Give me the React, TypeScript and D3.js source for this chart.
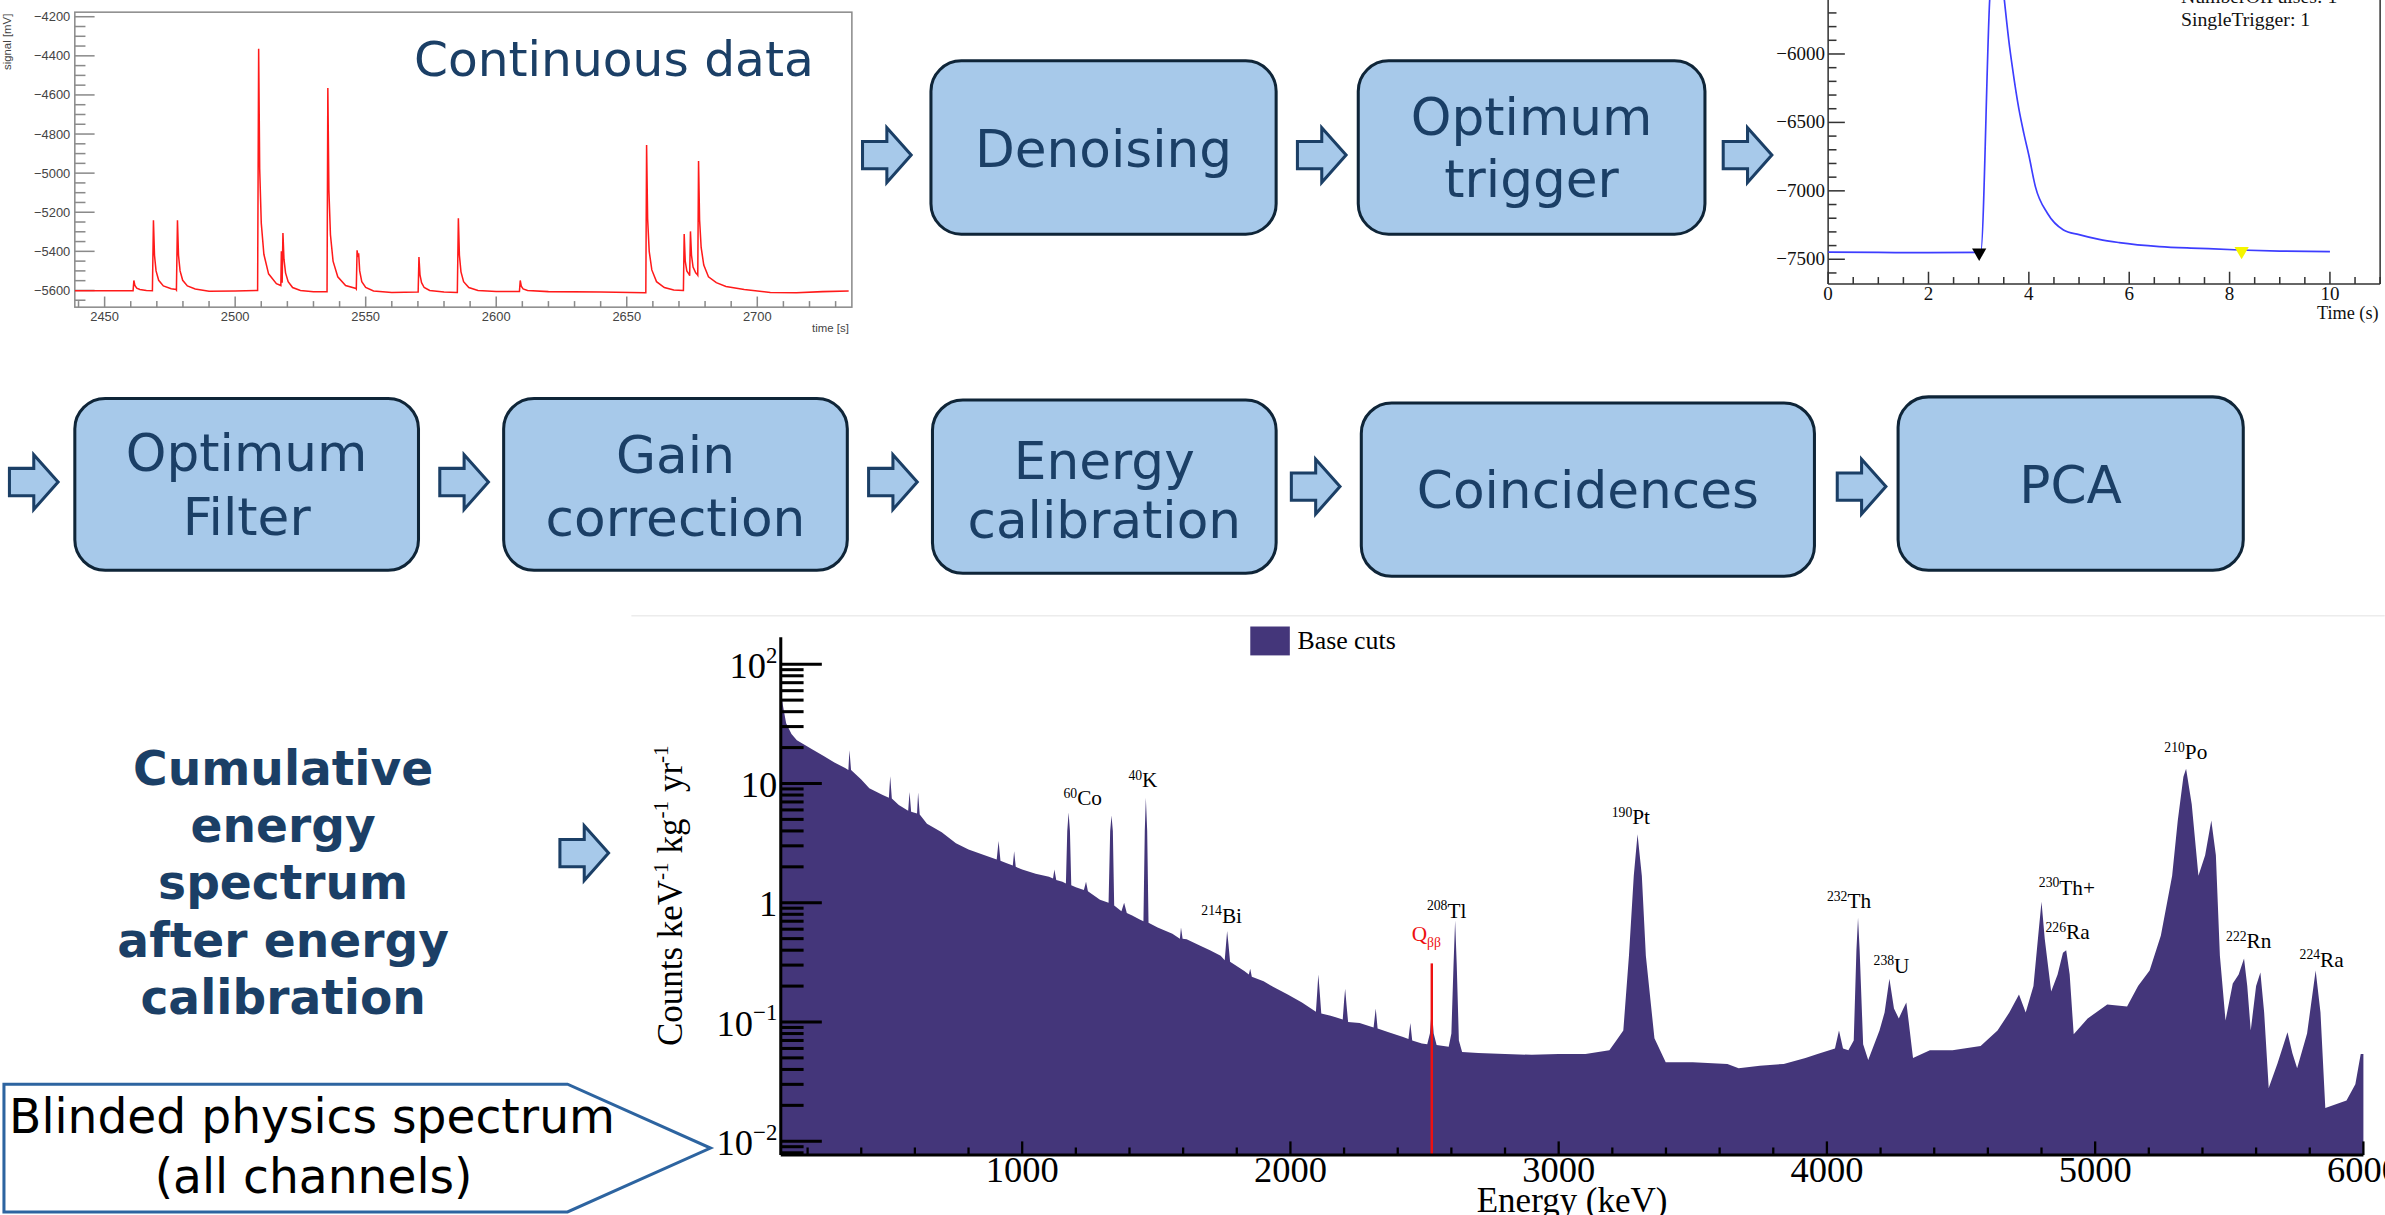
import React from 'react';
import * as d3 from 'd3';

// ---- data ----

// continuous stream (time [s], signal [mV])
const streamTrace: [number, number][] = [
  [2438.6, -5602], [2450, -5601], [2460.9, -5602], [2461.2, -5549], [2461.6, -5575], [2462.3, -5588], [2463.5, -5595], [2466, -5600],
  [2468.3, -5601], [2468.7, -5241], [2469.1, -5420], [2469.7, -5500], [2470.7, -5548], [2472.5, -5577], [2475.5, -5591], [2477.4, -5595],
  [2477.5, -5597], [2477.9, -5241], [2478.3, -5420], [2478.9, -5500], [2479.9, -5548], [2481.7, -5577], [2484.7, -5593], [2490, -5604], [2500, -5603], [2508.5, -5600],
  [2508.6, -5600], [2509.0, -4364], [2509.4, -4980], [2510.0, -5255], [2511.0, -5415], [2512.8, -5515], [2515.8, -5565], [2517.5, -5575],
  [2517.7, -5400], [2518.0, -5560], [2518.3, -5306], [2518.7, -5440], [2519.3, -5510], [2520.3, -5555], [2522, -5585], [2525, -5600], [2530, -5607], [2535, -5606],
  [2535.2, -5606], [2535.5, -4564], [2535.9, -5085], [2536.5, -5315], [2537.5, -5450], [2539.3, -5530], [2542.3, -5575], [2546.3, -5590],
  [2546.4, -5592], [2546.7, -5395], [2547.0, -5420], [2547.3, -5410], [2547.7, -5500], [2548.5, -5555], [2550, -5585], [2553, -5603], [2560, -5610], [2569.9, -5608],
  [2570.1, -5608], [2570.4, -5429], [2570.8, -5520], [2571.4, -5560], [2572.4, -5585], [2574.5, -5600], [2580, -5608], [2585, -5610],
  [2585.1, -5610], [2585.5, -5231], [2585.9, -5420], [2586.5, -5505], [2587.5, -5555], [2589.5, -5585], [2593, -5600], [2600, -5605], [2608.8, -5605],
  [2608.9, -5605], [2609.2, -5549], [2609.6, -5578], [2610.3, -5592], [2612, -5600], [2620, -5606], [2640, -5608], [2657.2, -5612],
  [2657.3, -5612], [2657.6, -4856], [2658.0, -5235], [2658.6, -5400], [2659.6, -5495], [2661.4, -5555], [2664.4, -5585], [2668, -5598], [2671.6, -5600],
  [2671.7, -5600], [2672.0, -5311], [2672.4, -5450], [2673, -5500], [2674.0, -5520],
  [2674.1, -5525], [2674.4, -5298], [2674.8, -5420], [2675.4, -5480], [2676.4, -5510], [2677.1, -5520],
  [2677.2, -5522], [2677.5, -4938], [2677.9, -5240], [2678.5, -5380], [2679.5, -5470], [2681.3, -5530], [2684.3, -5560], [2688, -5580],
  [2695, -5595], [2705, -5610], [2715, -5612], [2725, -5606], [2735, -5603],
];
const streamTicksX = [2450, 2500, 2550, 2600, 2650, 2700];
const streamTicksY = [-5600, -5400, -5200, -5000, -4800, -4600, -4400, -4200];

// triggered pulse (time [s], mV)
const pulseTrace: [number, number][] = [
  [0, -7448], [1, -7450], [2, -7452], [3.04, -7449], [3.22, -5600], [3.35, -5000], [3.51, -5600], [3.6, -5900],
  [3.67, -6093], [3.8, -6400], [3.9, -6580], [4.0, -6740], [4.13, -6969], [4.37, -7164], [4.69, -7286], [5.0, -7320],
  [5.4, -7355], [5.8, -7378], [6.6, -7407], [7.4, -7420], [8.2, -7432], [9, -7440], [10, -7444],
];
const pulseMarkers = [
  { t: 3.01, v: -7452, color: '#000' },
  { t: 8.24, v: -7440, color: '#f5f500' },
];
const pulseTicksX = [0, 2, 4, 6, 8, 10];
const pulseTicksY = [-7500, -7000, -6500, -6000];

// energy spectrum (keV, counts/keV/kg/yr)
const spectrum: [number, number][] = [
  [100, 62], [108, 45], [120, 32], [140, 26], [160, 23], [190, 21], [215, 19.5], [260, 17], [300, 15], [340, 13.5],
  [352, 13], [356, 19], [362, 13], [400, 10.8], [430, 9.1], [480, 8.0], [503, 7.6], [508, 11.5], [514, 7.5],
  [540, 6.6], [575, 5.9], [580, 8.5], [586, 5.8], [608, 5.6], [612, 8.4], [618, 5.5], [645, 4.6], [700, 3.9],
  [753, 3.15], [800, 2.8], [860, 2.5], [905, 2.3], [912, 3.3], [919, 2.25], [940, 2.15], [965, 2.05], [970, 2.7], [976, 2.0],
  [1000, 1.9], [1050, 1.75], [1100, 1.65], [1115, 1.6], [1120, 1.9], [1127, 1.55], [1150, 1.5], [1163, 1.45],
  [1168, 4], [1173, 5.7], [1178, 4], [1183, 1.4], [1200, 1.35], [1230, 1.28], [1238, 1.5], [1245, 1.25],
  [1290, 1.06], [1322, 1.0], [1328, 4], [1333, 5.4], [1338, 4], [1343, 0.95], [1370, 0.85], [1380, 1.0], [1390, 0.82],
  [1410, 0.78], [1440, 0.72], [1452, 0.7], [1457, 4], [1461, 7.6], [1466, 4], [1471, 0.68], [1505, 0.62], [1560, 0.55],
  [1588, 0.5], [1592, 0.62], [1598, 0.5], [1613, 0.495], [1660, 0.44], [1700, 0.4], [1740, 0.36], [1755, 0.33],
  [1760, 0.45], [1764, 0.58], [1769, 0.45], [1775, 0.32], [1828, 0.268], [1845, 0.25], [1850, 0.28], [1856, 0.24],
  [1900, 0.22], [1935, 0.197], [1990, 0.17], [2043, 0.146], [2095, 0.122], [2100, 0.18], [2104, 0.25], [2109, 0.18], [2115, 0.118],
  [2150, 0.113], [2195, 0.105], [2200, 0.15], [2204, 0.19], [2209, 0.14], [2215, 0.1], [2258, 0.098], [2310, 0.09],
  [2318, 0.13], [2325, 0.088], [2366, 0.082], [2420, 0.075], [2440, 0.072], [2447, 0.098], [2454, 0.07], [2490, 0.066],
  [2510, 0.065], [2520, 0.08], [2527, 0.13], [2534, 0.08], [2545, 0.064], [2590, 0.062], [2600, 0.08], [2608, 0.3],
  [2614, 0.71], [2620, 0.3], [2628, 0.07], [2640, 0.056], [2700, 0.055], [2800, 0.054], [2900, 0.053], [3000, 0.054],
  [3100, 0.054], [3189, 0.058], [3215, 0.07], [3241, 0.085], [3262, 0.36], [3280, 1.68], [3294, 3.76], [3310, 1.68],
  [3325, 0.36], [3357, 0.073], [3399, 0.046], [3500, 0.046], [3629, 0.0445], [3671, 0.041], [3750, 0.043], [3839, 0.0445],
  [3920, 0.05], [3965, 0.054], [4030, 0.06], [4045, 0.085], [4060, 0.06], [4080, 0.058], [4100, 0.07], [4110, 0.4],
  [4116, 0.75], [4122, 0.4], [4135, 0.065], [4154, 0.048], [4196, 0.085], [4215, 0.12], [4233, 0.23], [4250, 0.13],
  [4268, 0.107], [4285, 0.13], [4296, 0.146], [4305, 0.1], [4321, 0.05], [4384, 0.058], [4468, 0.058], [4573, 0.063],
  [4636, 0.085], [4680, 0.12], [4716, 0.17], [4741, 0.12], [4770, 0.2], [4790, 0.6], [4800, 1.02], [4812, 0.5],
  [4836, 0.18], [4860, 0.25], [4880, 0.38], [4892, 0.4], [4905, 0.25], [4920, 0.079], [4972, 0.107], [5045, 0.14],
  [5119, 0.135], [5160, 0.2], [5203, 0.27], [5245, 0.53], [5287, 1.68], [5308, 4.9], [5329, 11.4], [5339, 13.3],
  [5360, 6.7], [5385, 1.68], [5410, 2.5], [5433, 4.9], [5450, 2.5], [5465, 0.36], [5486, 0.103], [5513, 0.21],
  [5535, 0.25], [5555, 0.34], [5567, 0.2], [5580, 0.085], [5600, 0.2], [5616, 0.26], [5630, 0.12], [5647, 0.028],
  [5680, 0.045], [5717, 0.082], [5735, 0.055], [5753, 0.041], [5790, 0.08], [5822, 0.27], [5840, 0.12], [5858, 0.019],
  [5937, 0.022], [5970, 0.03], [5990, 0.054], [6000, 0.054],
];
const qbb = { e: 2527, top: 0.31 };
const isotopes = [
  { mass: '60', sym: 'Co', e: 1154, v: 6.55 },
  { mass: '40', sym: 'K', e: 1396, v: 9.3 },
  { mass: '214', sym: 'Bi', e: 1668, v: 0.68 },
  { mass: '208', sym: 'Tl', e: 2509, v: 0.745 },
  { mass: '190', sym: 'Pt', e: 3198, v: 4.53 },
  { mass: '232', sym: 'Th', e: 4000, v: 0.9 },
  { mass: '238', sym: 'U', e: 4174, v: 0.259 },
  { mass: '230', sym: 'Th+', e: 4790, v: 1.165 },
  { mass: '226', sym: 'Ra', e: 4815, v: 0.494 },
  { mass: '210', sym: 'Po', e: 5258, v: 15.96 },
  { mass: '222', sym: 'Rn', e: 5488, v: 0.414 },
  { mass: '224', sym: 'Ra', e: 5762, v: 0.291 },
];
const specTicksX = [1000, 2000, 3000, 4000, 5000, 6000];
const specDecades = [-2, -1, 0, 1, 2];

// flow chart steps
const stepLabels = [
  ['Denoising'], ['Optimum', 'trigger'], ['Optimum', 'Filter'], ['Gain', 'correction'],
  ['Energy', 'calibration'], ['Coincidences'], ['PCA'],
];

// ---- layout ----
const navy = '#1b3f66';
const boxFill = '#a7c9ea';
const boxStroke = '#0f2538';
const serif = "'Liberation Serif', 'Times New Roman', serif";
const sans = "'DejaVu Sans', sans-serif";
const helv = "'Liberation Sans', Arial, sans-serif";

const boxLayout = [
  { x: 612, y: 40, w: 227, h: 114, base: [109.6] },
  { x: 893, y: 40, w: 228, h: 114, base: [88.8, 129.3] },
  { x: 49, y: 262, w: 226, h: 113, base: [309.5, 351.8] },
  { x: 331, y: 262, w: 226, h: 113, base: [311, 352.7] },
  { x: 613, y: 263, w: 226, h: 114, base: [315, 354] },
  { x: 895, y: 265, w: 298, h: 114, base: [334] },
  { x: 1248, y: 261, w: 227, h: 114, base: [330.5] },
];
const arrowLayout = [[567, 102], [853, 102], [1133, 102], [6, 317], [289, 317], [571, 317], [849, 320], [1208, 320], [368, 561]];

const sup = (s: string, size: number, rise: number) => (
  <tspan fontSize={size} dy={-rise}>{s}</tspan>
);

const Arrow = ({ x, y }: { x: number; y: number }) => {
  const w = 32;
  const h = 36;
  const pts = [[0, 0.25], [0.5, 0.25], [0.5, 0], [1, 0.5], [0.5, 1], [0.5, 0.75], [0, 0.75]];
  return (
    <polygon
      points={pts.map((p) => `${x + p[0] * w},${y - h / 2 + p[1] * h}`).join(' ')}
      fill={boxFill}
      stroke={navy}
      strokeWidth={2}
    />
  );
};

const StreamChart = () => {
  const left = 49;
  const right = 560;
  const top = 8;
  const bottom = 202;
  const x = d3.scaleLinear().domain([2450, 2700]).range([68.6, 497.8]);
  const y = d3.scaleLinear().domain([-5600, -4200]).range([191, 11]);
  const line = d3.line<[number, number]>().x((d) => x(d[0])).y((d) => y(d[1]));
  const minorX = d3.range(2440, 2736, 10);
  const minorY = d3.range(-5650, -4150, 50);
  return (
    <g>
      <defs>
        <clipPath id="clip-stream"><rect x={left} y={top} width={right - left} height={bottom - top} /></clipPath>
      </defs>
      <rect x={left} y={top} width={right - left} height={bottom - top} fill="none" stroke="#8a8a8a" strokeWidth={1} />
      {minorX.map((t) => (
        <line key={`mx${t}`} x1={x(t)} x2={x(t)} y1={bottom} y2={bottom - (t % 50 === 0 ? 7 : 4)} stroke="#8a8a8a" />
      ))}
      {minorY.map((v) => (
        <line key={`my${v}`} x1={left} x2={left + (v % 200 === 0 ? 13 : 7)} y1={y(v)} y2={y(v)} stroke="#8a8a8a" />
      ))}
      <path d={line(streamTrace) || ''} fill="none" stroke="#ff1a1a" strokeWidth={1} clipPath="url(#clip-stream)" />
      {streamTicksY.map((v) => (
        <text key={`ly${v}`} x={46} y={y(v) + 3} textAnchor="end" fontFamily={helv} fontSize={8.5} fill="#444">
          {`\u2212${Math.abs(v)}`}
        </text>
      ))}
      {streamTicksX.map((t) => (
        <text key={`lx${t}`} x={x(t)} y={211} textAnchor="middle" fontFamily={helv} fontSize={8.5} fill="#444">{t}</text>
      ))}
      <text x={558} y={218} textAnchor="end" fontFamily={helv} fontSize={7.5} fill="#444">time [s]</text>
      <text transform="translate(7,9) rotate(-90)" textAnchor="end" fontFamily={helv} fontSize={7.5} fill="#444">signal [mV]</text>
      <text x={272} y={50} fontFamily={sans} fontSize={32} fill={navy}>Continuous data</text>
    </g>
  );
};

const PulseChart = () => {
  const left = 1202;
  const right = 1565;
  const bottom = 186.7;
  const x = d3.scaleLinear().domain([0, 10]).range([1202, 1532]);
  const y = d3.scaleLinear().domain([-7500, -6000]).range([170.5, 35.5]);
  const line = d3.line<[number, number]>().x((d) => x(d[0])).y((d) => y(d[1])).curve(d3.curveMonotoneX);
  const minorX = d3.range(0, 11.01, 0.5);
  const minorY = d3.range(-7600, -5550, 100);
  const tri = d3.symbol().type(d3.symbolTriangle).size(38)();
  return (
    <g>
      <defs>
        <clipPath id="clip-pulse"><rect x={left} y={0} width={right - left} height={bottom} /></clipPath>
      </defs>
      <line x1={left} x2={left} y1={0} y2={bottom} stroke="#333" />
      <line x1={right} x2={right} y1={0} y2={bottom} stroke="#333" />
      <line x1={left} x2={right} y1={bottom} y2={bottom} stroke="#333" />
      {minorX.map((t) => (
        <line key={`px${t}`} x1={x(t)} x2={x(t)} y1={bottom} y2={bottom - (t % 2 === 0 ? 8 : 4.5)} stroke="#333" />
      ))}
      {minorY.map((v) => (
        <line key={`py${v}`} x1={left} x2={left + (v % 500 === 0 ? 11 : 5.5)} y1={y(v)} y2={y(v)} stroke="#333" />
      ))}
      <path d={line(pulseTrace) || ''} fill="none" stroke="#3d3dff" strokeWidth={1.1} clipPath="url(#clip-pulse)" />
      {pulseMarkers.map((m) => (
        <path key={m.t} d={tri || ''} transform={`translate(${x(m.t)},${y(m.v)}) rotate(180)`} fill={m.color} />
      ))}
      {pulseTicksY.map((v) => (
        <text key={`ply${v}`} x={1200} y={y(v) + 4} textAnchor="end" fontFamily={serif} fontSize={12.5} fill="#111">
          {`\u2212${Math.abs(v)}`}
        </text>
      ))}
      {pulseTicksX.map((t) => (
        <text key={`plx${t}`} x={x(t)} y={197.5} textAnchor="middle" fontFamily={serif} fontSize={12.5} fill="#111">{t}</text>
      ))}
      <text x={1564} y={209.5} textAnchor="end" fontFamily={serif} fontSize={12} fill="#111">Time (s)</text>
      <text x={1434} y={2} fontFamily={serif} fontSize={13} fill="#111">NumberOfPulses: 1</text>
      <text x={1434} y={17} fontFamily={serif} fontSize={13} fill="#111">SingleTrigger: 1</text>
    </g>
  );
};

const SpectrumChart = () => {
  const x = d3.scaleLinear().domain([1000, 6000]).range([672, 1554]);
  const y = d3.scaleLog().domain([0.01, 100]).range([750.5, 436.8]);
  const x0 = x(100);
  const x1 = x(6000);
  const yBot = 759.6;
  const yTop = 419;
  const area = d3.area<[number, number]>().x((d) => x(d[0])).y0(yBot).y1((d) => y(d[1]));
  const minorX = d3.range(200, 6001, 200);
  const minorY: number[] = [];
  [-3, -2, -1, 0, 1, 2].forEach((d) => {
    for (let m = 2; m <= 9; m++) {
      const v = m * 10 ** d;
      if (y(v) <= yBot && y(v) >= yTop) minorY.push(v);
    }
  });
  return (
    <g>
      <line x1={415} x2={1568} y1={405} y2={405} stroke="#ececec" strokeWidth={1} />
      <path d={area(spectrum) || ''} fill="#44367a" />
      <line x1={x(qbb.e)} x2={x(qbb.e)} y1={yBot} y2={y(qbb.top)} stroke="#ee1111" strokeWidth={1.6} />
      {minorY.map((v) => (
        <line key={`sy${v}`} x1={x0} x2={x0 + 15} y1={y(v)} y2={y(v)} stroke="#000" strokeWidth={2} />
      ))}
      {specDecades.map((d) => (
        <line key={`sd${d}`} x1={x0} x2={x0 + 27} y1={y(10 ** d)} y2={y(10 ** d)} stroke="#000" strokeWidth={2} />
      ))}
      {minorX.map((e) => (
        <line key={`sx${e}`} x1={x(e)} x2={x(e)} y1={yBot} y2={yBot - (e % 1000 === 0 ? 9 : 5)} stroke="#000" strokeWidth={1.5} />
      ))}
      <line x1={x0} x2={x0} y1={yTop} y2={yBot} stroke="#000" strokeWidth={2} />
      <line x1={x0} x2={x1} y1={yBot} y2={yBot} stroke="#000" strokeWidth={2} />
      {specDecades.map((d) => (
        <text key={`sl${d}`} x={511} y={y(10 ** d) + 9} textAnchor="end" fontFamily={serif} fontSize={24} fill="#000">
          {d === 0 ? '1' : '10'}
          {d !== 0 && d !== 1 ? sup(d < 0 ? `\u2212${-d}` : `${d}`, 15, 10) : null}
        </text>
      ))}
      {specTicksX.map((e) => (
        <text key={`sxl${e}`} x={x(e)} y={777} textAnchor="middle" fontFamily={serif} fontSize={24} fill="#000">{e}</text>
      ))}
      <text x={(x0 + x1) / 2} y={797} textAnchor="middle" fontFamily={serif} fontSize={23} fill="#000">Energy (keV)</text>
      <text transform="translate(448,589) rotate(-90)" textAnchor="middle" fontFamily={serif} fontSize={23} fill="#000">
        Counts keV
        <tspan fontSize={14} dy={-9}>-1</tspan>
        <tspan dy={9}> kg</tspan>
        <tspan fontSize={14} dy={-9}>-1</tspan>
        <tspan dy={9}> yr</tspan>
        <tspan fontSize={14} dy={-9}>-1</tspan>
      </text>
      {isotopes.map((iso) => (
        <text key={iso.mass + iso.sym} x={x(iso.e)} y={y(iso.v)} fontFamily={serif} fontSize={14} fill="#000">
          <tspan fontSize={9} dy={-5}>{iso.mass}</tspan>
          <tspan dy={5}>{iso.sym}</tspan>
        </text>
      ))}
      <text x={x(2452)} y={y(0.48)} fontFamily={serif} fontSize={14} fill="#ee1111">
        Q
        <tspan fontSize={9} dy={4}>{'\u03b2\u03b2'}</tspan>
      </text>
      <rect x={822} y={412} width={26} height={19} fill="#44367a" />
      <text x={853} y={427} fontFamily={serif} fontSize={17} fill="#000">Base cuts</text>
    </g>
  );
};

const App = () => {
  const leftLines = ['Cumulative', 'energy', 'spectrum', 'after energy', 'calibration'];
  return (
    <svg
      width={2385}
      height={1215}
      viewBox="0 0 1568 799"
      style={{ position: 'absolute', left: 0, top: 0, background: '#fff' }}
    >
      <rect x={0} y={0} width={1568} height={799} fill="#fff" />
      <StreamChart />
      <PulseChart />
      <SpectrumChart />
      {boxLayout.map((b, i) => (
        <g key={stepLabels[i].join(' ')}>
          <rect x={b.x} y={b.y} width={b.w} height={b.h} rx={20} ry={20} fill={boxFill} stroke={boxStroke} strokeWidth={2} />
          {stepLabels[i].map((txt, j) => (
            <text key={txt} x={b.x + b.w / 2} y={b.base[j]} textAnchor="middle" fontFamily={sans} fontSize={34} fill={navy}>
              {txt}
            </text>
          ))}
        </g>
      ))}
      {arrowLayout.map(([ax, ay]) => <Arrow key={`${ax}-${ay}`} x={ax} y={ay} />)}
      {leftLines.map((t, i) => (
        <text key={t} x={186} y={516 + i * 37.7} textAnchor="middle" fontFamily={sans} fontWeight="bold" fontSize={31} fill={navy}>
          {t}
        </text>
      ))}
      <polygon points="2.4,713 373,713 467,755 373,797 2.4,797" fill="#fff" stroke="#2d64a0" strokeWidth={2} />
      <text x={205} y={745} textAnchor="middle" fontFamily={sans} fontSize={31} fill="#000">Blinded physics spectrum</text>
      <text x={206} y={784.6} textAnchor="middle" fontFamily={sans} fontSize={31} fill="#000">(all channels)</text>
    </svg>
  );
};

export default App;
